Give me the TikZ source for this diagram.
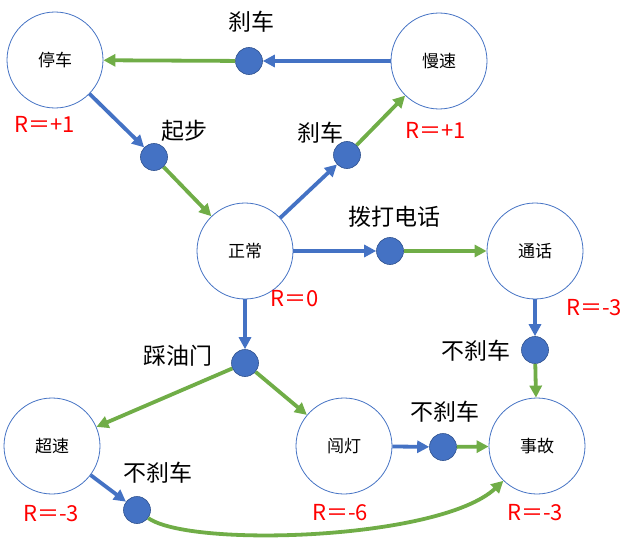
\documentclass[tikz,border=0pt]{standalone}
\usepackage{fontspec}
\setmainfont{Noto Sans CJK SC}
\usetikzlibrary{arrows.meta}
\definecolor{cblue}{RGB}{68,114,196}
\definecolor{cgreen}{RGB}{112,173,71}
\definecolor{cdark}{RGB}{47,82,143}
\begin{document}
\begin{tikzpicture}[x=1pt,y=-1pt,
 state/.style={circle,draw=cblue,line width=0.8pt,fill=white,minimum size=96pt,inner sep=0pt,font=\fontsize{17}{20}\selectfont},
 act/.style={circle,fill=cblue,draw=cdark,line width=0.6pt,minimum size=27pt,inner sep=0pt},
 lbl/.style={font=\fontsize{23}{26}\selectfont},
 rw/.style={text=red,font=\fontsize{22}{26}\selectfont},
 bl/.style={draw=cblue,line width=3.8pt,-{Triangle[length=12pt,width=12pt]}},
 gr/.style={draw=cgreen,line width=3.8pt,-{Triangle[length=12pt,width=12pt]}},
]
\useasboundingbox (0,0) rectangle (638,543);
% states
\node[state] (stop) at (55,60) {停车};
\node[state] (slow) at (439,61) {慢速};
\node[state] (norm) at (245,251) {正常};
\node[state] (call) at (535,251) {通话};
\node[state] (fast) at (52,446) {超速};
\node[state] (red) at (344,446) {闯灯};
\node[state] (acc) at (537,446) {事故};
% action dots
\node[act] (a1) at (249,61) {};
\node[act] (a2) at (154,157) {};
\node[act] (a3) at (347,155) {};
\node[act] (a4) at (390,251) {};
\node[act] (a5) at (535,350) {};
\node[act] (a6) at (245,363) {};
\node[act] (a7) at (443,447) {};
\node[act] (a8) at (137,510) {};
% labels
\node[lbl] (l1) at (251,22) {刹车};
\node[lbl] (l2) at (184,131) {起步};
\node[lbl] (l3) at (320,133) {刹车};
\node[lbl] (l4) at (394,217) {拨打电话};
\node[lbl] (l5) at (476,351) {不刹车};
\node[lbl] (l6) at (178,356) {踩油门};
\node[lbl] (l7) at (445,412) {不刹车};
\node[lbl] (l8) at (158,473) {不刹车};
% rewards
\node[rw] (r1) at (45,124) {R＝+1};
\node[rw] (r2) at (436,130) {R＝+1};
\node[rw] (r3) at (295,299) {R＝0};
\node[rw] (r4) at (594,308) {R＝-3};
\node[rw] (r5) at (51,514) {R＝-3};
\node[rw] (r6) at (340,513) {R＝-6};
\node[rw] (r7) at (535,513) {R＝-3};
% connectors
\draw[bl] (slow) -- (a1);
\draw[gr] (a1) -- (stop);
\draw[bl] (stop) -- (a2);
\draw[gr] (a2) -- (norm);
\draw[bl] (norm) -- (a3);
\draw[gr] (a3) -- (slow);
\draw[bl] (norm) -- (a4);
\draw[gr] (a4) -- (call);
\draw[bl] (call) -- (a5);
\draw[gr] (a5) -- (acc);
\draw[bl] (norm) -- (a6);
\draw[gr] (a6) -- (fast);
\draw[gr] (a6) -- (red);
\draw[bl] (red) -- (a7);
\draw[gr] (a7) -- (acc);
\draw[bl] (fast) -- (a8);
\draw[gr] (a8) .. controls (190,548) and (440,540) .. (acc.-134);
\end{tikzpicture}
\end{document}
